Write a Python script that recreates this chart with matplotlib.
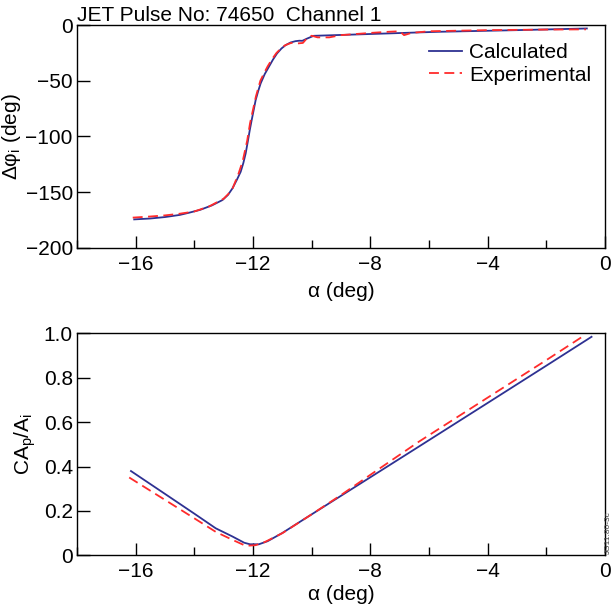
import matplotlib
matplotlib.use("Agg")
import matplotlib.pyplot as plt
from matplotlib.ticker import MultipleLocator

plt.rcParams['font.family'] = ['Liberation Sans', 'DejaVu Sans']
plt.rcParams['mathtext.fontset'] = 'custom'
plt.rcParams['mathtext.rm'] = 'Liberation Sans'
plt.rcParams['mathtext.it'] = 'Liberation Sans'

# phase difference vs alpha
phase_calc_x = [-16.05, -15.5, -15.0, -14.5, -14.18, -13.8, -13.4, -13.04, -12.85, -12.7,
                -12.55, -12.42, -12.33, -12.25, -12.18, -12.11, -12.05, -12.0, -11.91,
                -11.82, -11.74, -11.6, -11.46, -11.32, -11.18, -11.03, -10.89, -10.72,
                -10.55, -10.42, -10.32, -10.15, -9.93, -8.5, -5.7, -3.0, -0.62]
phase_calc_y = [-174.6, -173.8, -172.5, -170.6, -168.6, -166.0, -162.0, -157.2, -152.5, -146.7,
                -139.0, -131.8, -124.0, -115.3, -105.0, -94.3, -86.0, -79.4, -67.4,
                -59.0, -52.4, -44.0, -37.5, -31.0, -25.4, -21.0, -18.0, -15.6,
                -14.4, -14.0, -14.1, -12.0, -9.6, -8.4, -6.0, -4.5, -3.0]
phase_exp_x = [-16.1, -15.5, -15.0, -14.5, -14.0, -13.5, -13.0, -12.85, -12.7, -12.5,
               -12.35, -12.2, -12.1, -12.0, -11.9, -11.75, -11.6, -11.5, -11.35, -11.2,
               -11.05, -10.9, -10.7, -10.5, -10.3, -10.15, -10.0, -9.8, -9.4, -9.0, -8.0,
               -7.4, -7.0, -6.85, -6.6, -6.0, -4.0, -2.0, -0.65]
phase_exp_y = [-173.0, -172.0, -171.0, -169.5, -167.5, -163.0, -156.0, -152.0, -147.0, -134.0,
               -122.0, -104.0, -88.0, -76.0, -64.0, -50.0, -42.0, -37.0, -30.5, -25.0,
               -21.0, -18.0, -16.0, -16.5, -16.0, -11.5, -9.5, -11.0, -11.0, -9.0, -7.0,
               -6.0, -5.5, -9.0, -7.0, -5.5, -4.5, -4.0, -3.8]

# amplitude ratio vs alpha
amp_calc_x = [-16.16, -15.0, -14.0, -13.27, -12.7, -12.3, -12.1, -11.8, -11.5, -11.23, -11.0,
              -9.76, -8.0, -6.35, -4.0, -2.0, -0.46]
amp_calc_y = [0.380, 0.277, 0.188, 0.122, 0.085, 0.057, 0.050, 0.050, 0.064, 0.084, 0.101,
              0.205, 0.352, 0.490, 0.687, 0.855, 0.985]
amp_exp_x = [-16.22, -15.0, -14.0, -13.27, -12.7, -12.25, -11.91, -11.6, -11.3, -11.0,
             -10.0, -9.0, -8.0, -6.35, -4.0, -2.0, -0.72]
amp_exp_y = [0.351, 0.250, 0.167, 0.106, 0.070, 0.043, 0.046, 0.060, 0.080, 0.100,
             0.185, 0.272, 0.363, 0.512, 0.711, 0.880, 0.990]

blue = '#2e3192'
red = '#ff2b2b'
dash = (0, (5.5, 3))

fig = plt.figure(figsize=(6.13, 6.13), dpi=100)
ax1 = fig.add_axes([0.1256, 0.596, 0.8614, 0.363])
ax2 = fig.add_axes([0.1256, 0.094, 0.8614, 0.362])

ax1.plot(phase_calc_x, phase_calc_y, color=blue, lw=1.3, label='Calculated')
ax1.plot(phase_exp_x, phase_exp_y, color=red, lw=1.3, ls=dash, label='Experimental')
ax1.set_ylim(-200, 0)
ax1.yaxis.set_major_locator(MultipleLocator(50))
ax1.set_ylabel(r'Δφ$_{\mathrm{i}}$ (deg)', fontsize=15, labelpad=2)
ax1.text(0.0, 1.0, 'JET Pulse No: 74650  Channel 1', transform=ax1.transAxes,
         fontsize=15, ha='left', va='bottom')
ax1.legend(loc='upper right', frameon=False, fontsize=15, handlelength=1.6,
           handletextpad=0.35, borderaxespad=0.0, labelspacing=0.15,
           bbox_to_anchor=(0.99, 0.955))
ax1.set_xlabel('α (deg)', fontsize=15, labelpad=6)

ax2.plot(amp_calc_x, amp_calc_y, color=blue, lw=1.3)
ax2.plot(amp_exp_x, amp_exp_y, color=red, lw=1.3, ls=dash)
ax2.set_ylim(0, 1.0)
ax2.set_yticks([0, 0.2, 0.4, 0.6, 0.8, 1.0])
ax2.set_yticklabels(['0', '0.2', '0.4', '0.6', '0.8', '1.0'])
ax2.set_ylabel(r'CA$_{\mathrm{p}}$/A$_{\mathrm{i}}$', fontsize=15, labelpad=4)
ax2.set_xlabel('α (deg)', fontsize=15, labelpad=3)

for ax in (ax1, ax2):
    ax.set_xlim(-18, 0)
    ax.set_xticks([-16, -12, -8, -4, 0])
    ax.xaxis.set_minor_locator(MultipleLocator(2))
    ax.set_xticklabels(['\u221216', '\u221212', '\u22128', '\u22124', '0'])
    ax.tick_params(axis='both', which='major', direction='in', length=9, width=1,
                   labelsize=15, top=False, right=False)
    ax.tick_params(axis='x', which='major', pad=5)
    ax.tick_params(axis='y', which='major', pad=3)
    ax.tick_params(axis='x', which='minor', direction='in', length=6, width=1, top=False)
    for s in ax.spines.values():
        s.set_linewidth(1.0)

fig.text(0.999, 0.097, 'JG11.80-3c', rotation=90, fontsize=6, ha='right', va='bottom',
         color='#444444')

fig.savefig('out.png', dpi=100)
